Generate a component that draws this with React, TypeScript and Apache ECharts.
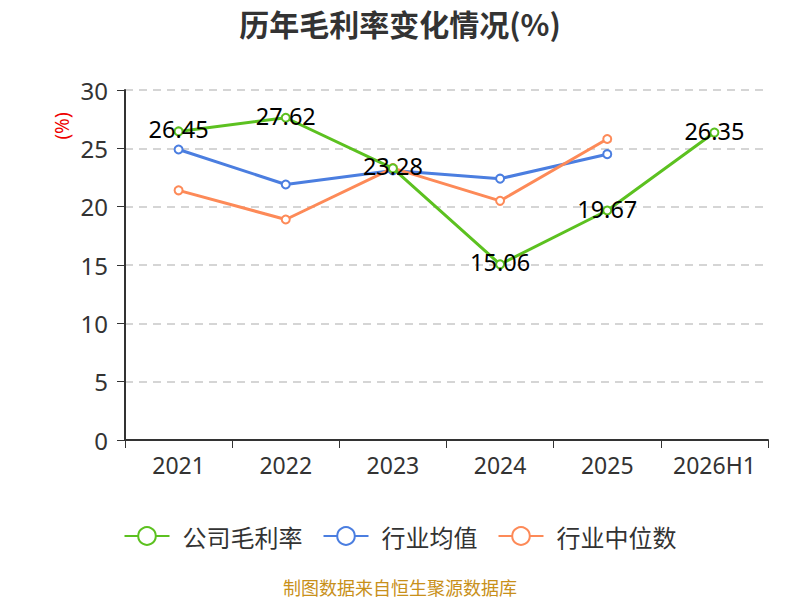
import React, { useEffect, useRef } from "react";
import * as echarts from "echarts";

const categories = ["2021", "2022", "2023", "2024", "2025", "2026H1"];
const companyMargin = [26.45, 27.62, 23.28, 15.06, 19.67, 26.35];
const industryAvg = [24.9, 21.9, 23.1, 22.4, 24.5, null];
const industryMedian = [21.4, 18.9, 23.3, 20.5, 25.8, null];
const yTicks = [0, 5, 10, 15, 20, 25, 30];

export default function App() {
  const ref = useRef<HTMLDivElement>(null);
  useEffect(() => {
    document.body.style.margin = "0";
    const chart = echarts.init(ref.current!, null, { renderer: "svg" });
    const font = "'Noto Sans', 'Noto Sans CJK SC', sans-serif";
    const cjk = "'Noto Sans CJK SC', 'Noto Sans', sans-serif";
    const mk = (name: string, data: (number | null)[], color: string, showLabel: boolean) => ({
      name,
      type: "line",
      data,
      symbol: "emptyCircle",
      symbolSize: 8,
      lineStyle: { width: 3, color },
      itemStyle: { color, borderWidth: 2 },
      label: showLabel
        ? { show: true, position: "inside", offset: [0, -2], color: "#000", fontSize: 23.5, fontFamily: font }
        : { show: false },
      z: showLabel ? 3 : 2,
    });
    chart.setOption({
      animation: false,
      textStyle: { fontFamily: font },
      title: {
        text: "历年毛利率变化情况(%)",
        left: "center",
        top: 3,
        textStyle: { fontSize: 30, fontWeight: "bold", color: "#333", fontFamily: cjk },
      },
      legend: {
        top: 519,
        left: "center",
        itemWidth: 45,
        itemHeight: 22,
        itemGap: 20,
        textStyle: { fontSize: 24, color: "#333", fontFamily: cjk, padding: [0, 0, 0, 8] },
        data: ["公司毛利率", "行业均值", "行业中位数"],
      },
      graphic: [
        {
          type: "text",
          left: "center",
          top: 578,
          style: { text: "制图数据来自恒生聚源数据库", fill: "#c8901a", fontSize: 18, fontFamily: cjk },
        },
        {
          type: "text",
          x: 62,
          y: 126,
          rotation: Math.PI / 2,
          style: {
            text: "(%)",
            fill: "#e00",
            fontSize: 19,
            fontFamily: font,
            align: "center",
            verticalAlign: "middle",
          },
        },
      ],
      grid: { left: 125, right: 32, top: 90, bottom: 160 },
      xAxis: {
        type: "category",
        data: categories,
        axisLine: { lineStyle: { color: "#333", width: 2 } },
        axisTick: { show: true, length: 8, lineStyle: { color: "#333" } },
        axisLabel: { fontSize: 23, color: "#333", margin: 13, interval: 0 },
      },
      yAxis: {
        type: "value",
        min: yTicks[0],
        max: yTicks[yTicks.length - 1],
        interval: 5,
        axisLine: { show: true, lineStyle: { color: "#333", width: 2 } },
        axisTick: { show: true, length: 8, lineStyle: { color: "#333" } },
        axisLabel: { fontSize: 24, color: "#333", margin: 17 },
        splitLine: { lineStyle: { type: [8, 6], color: "#c8c8c8", width: 1.5 } },
      },
      series: [
        mk("公司毛利率", companyMargin, "#5cc120", true),
        mk("行业均值", industryAvg, "#4b7ee0", false),
        mk("行业中位数", industryMedian, "#fd8a58", false),
      ],
    });
    return () => chart.dispose();
  }, []);
  return <div ref={ref} style={{ width: 800, height: 600 }} />;
}
